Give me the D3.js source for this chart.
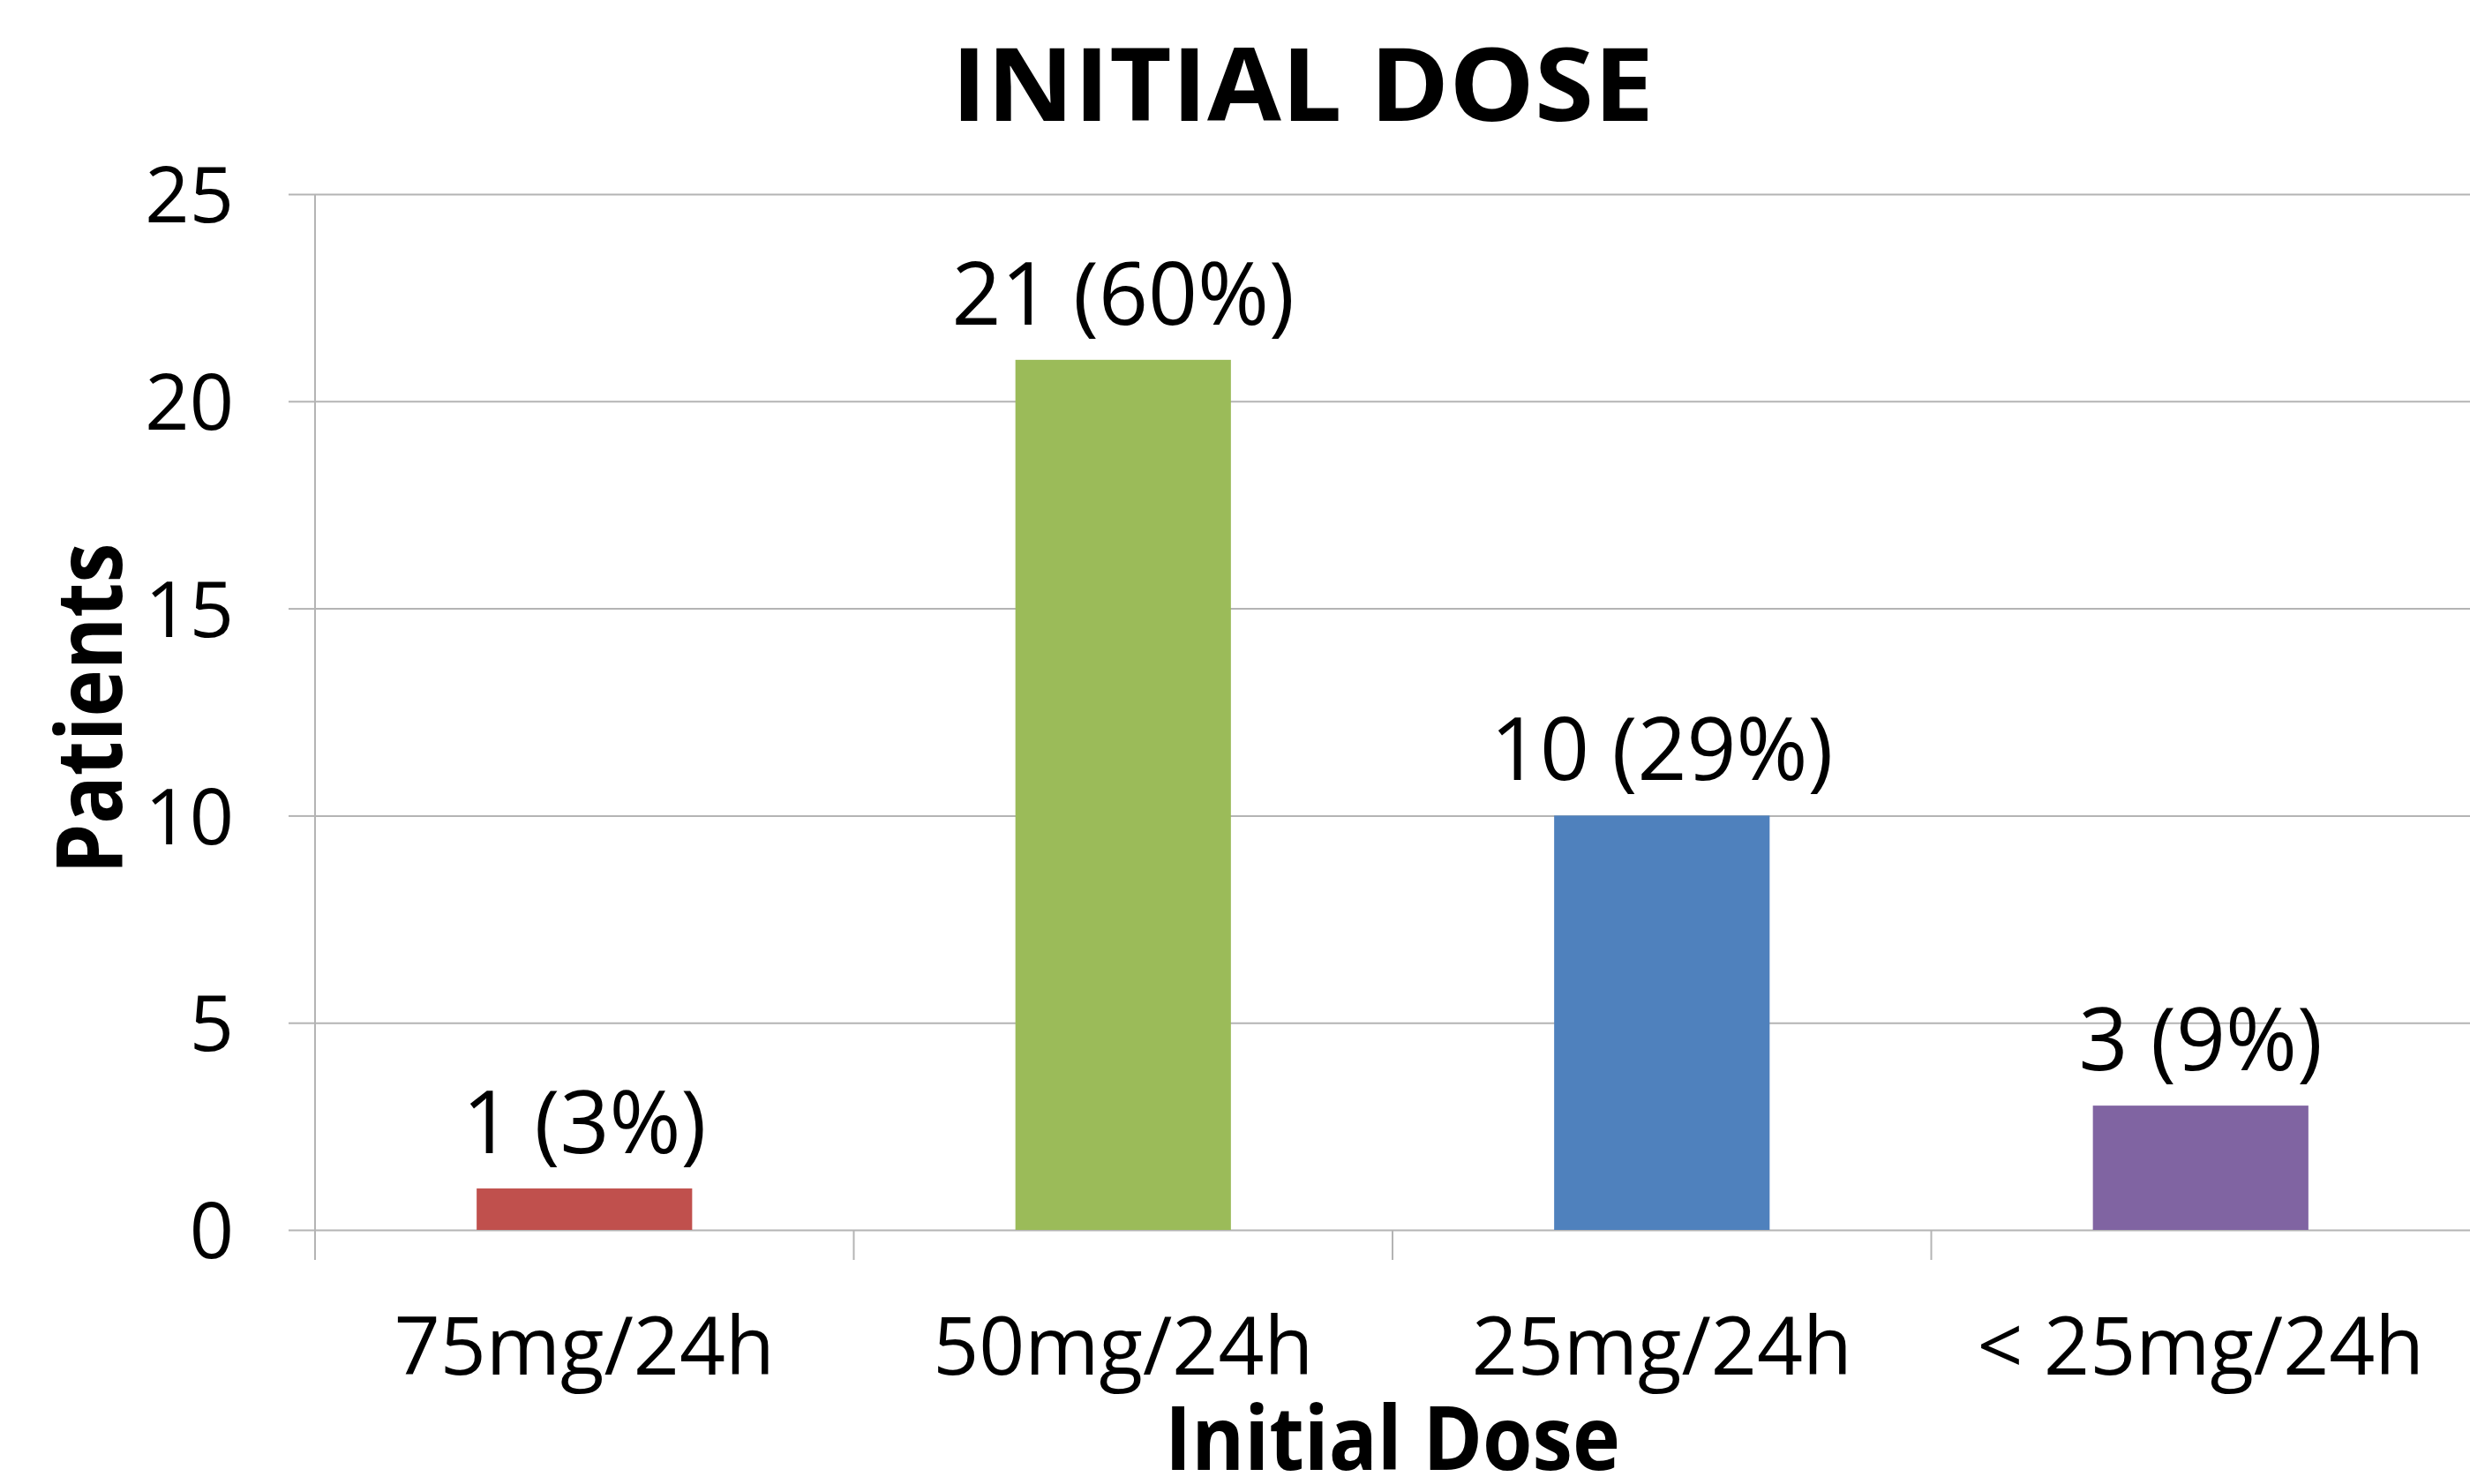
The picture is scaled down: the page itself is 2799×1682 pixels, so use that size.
<!DOCTYPE html>
<html>
<head>
<meta charset="utf-8">
<script src="https://cdn.jsdelivr.net/npm/d3@7"></script>
<style>
  body { margin: 0; background: #fff; }
  text { font-family: "Open Sans", sans-serif; fill: #000; }
</style>
</head>
<body>
<div id="chart"></div>
<script>
// chart data
var categories = ["75mg/24h", "50mg/24h", "25mg/24h", "< 25mg/24h"];
var patients = [1, 21, 10, 3];
var percents = ["3%", "60%", "29%", "9%"];
var barColors = ["#C0504D", "#9BBB59", "#4F81BD", "#8064A2"];
var yTicks = [0, 5, 10, 15, 20, 25];

var svgWidth = 2799;
var svgHeight = 1682;

var margin = {
   top: 220,
   right: 0,
   bottom: 288,
   left: 357
};

var width = svgWidth - margin.left - margin.right;
var height = svgHeight - margin.top - margin.bottom;

var svg = d3.select("#chart")
   .append("svg")
   .attr("width", svgWidth)
   .attr("height", svgHeight);

svg.append("rect")
   .attr("width", svgWidth)
   .attr("height", svgHeight)
   .attr("fill", "#fff");

var chartGroup = svg.append("g")
   .attr("transform", `translate(${margin.left}, ${margin.top})`);

// scales
var xBandScale = d3.scaleBand()
   .domain(categories)
   .range([0, width])
   .paddingInner(0.6)
   .paddingOuter(0.3);

var yLinearScale = d3.scaleLinear()
   .domain([0, 25])
   .range([height, 0]);

var gridColor = "#b4b4b4";

// tick marks + labels (ticks stick out 30px left of the axis)
var leftAxis = d3.axisLeft(yLinearScale)
   .tickValues(yTicks)
   .tickSize(30)
   .tickPadding(62);

var yAxis = chartGroup.append("g")
   .call(leftAxis);
yAxis.select(".domain").remove();
yAxis.selectAll("line").attr("stroke", gridColor).attr("stroke-width", 2);
yAxis.selectAll("text")
   .attr("font-size", 88)
   .attr("font-family", "'Open Sans', sans-serif")
   .attr("dy", "0.36em");

// gridlines
var grid = chartGroup.append("g")
   .call(d3.axisLeft(yLinearScale).tickValues(yTicks).tickSize(-width).tickFormat(""));
grid.select(".domain").remove();
grid.selectAll("line").attr("stroke", gridColor).attr("stroke-width", 2);

// vertical axis line, runs down past zero like the category ticks
chartGroup.append("line")
   .attr("x1", 0).attr("x2", 0)
   .attr("y1", 0).attr("y2", height + 34)
   .attr("stroke", gridColor)
   .attr("stroke-width", 2);

// category boundary ticks
chartGroup.selectAll(".cat-tick")
   .data(categories.slice(1))
   .enter()
   .append("line")
   .attr("class", "cat-tick")
   .attr("x1", d => xBandScale(d) - xBandScale.step() * xBandScale.paddingInner() / 2)
   .attr("x2", d => xBandScale(d) - xBandScale.step() * xBandScale.paddingInner() / 2)
   .attr("y1", height)
   .attr("y2", height + 34)
   .attr("stroke", gridColor)
   .attr("stroke-width", 2);

// category labels
var bottomAxis = d3.axisBottom(xBandScale).tickSize(0).tickPadding(0);
var xAxis = chartGroup.append("g")
   .attr("transform", `translate(0, ${height})`)
   .call(bottomAxis);
xAxis.select(".domain").remove();
xAxis.selectAll("text")
   .attr("font-size", 91)
   .attr("font-family", "'Open Sans', sans-serif")
   .attr("dy", null)
   .attr("y", 164);

// bars
chartGroup.selectAll(".bar")
   .data(patients)
   .enter()
   .append("rect")
   .attr("class", "bar")
   .attr("x", (d, i) => xBandScale(categories[i]))
   .attr("y", d => yLinearScale(d))
   .attr("width", xBandScale.bandwidth())
   .attr("height", d => height - yLinearScale(d))
   .attr("fill", (d, i) => barColors[i]);

// value labels
chartGroup.selectAll(".value-label")
   .data(patients)
   .enter()
   .append("text")
   .attr("class", "value-label")
   .attr("x", (d, i) => xBandScale(categories[i]) + xBandScale.bandwidth() / 2)
   .attr("y", d => yLinearScale(d) - 40)
   .attr("text-anchor", "middle")
   .attr("font-size", 98)
   .text((d, i) => `${d} (${percents[i]})`);

// title
svg.append("text")
   .attr("x", 1476)
   .attr("y", 137)
   .attr("text-anchor", "middle")
   .attr("font-family", "'DejaVu Sans', sans-serif")
   .attr("font-weight", "bold")
   .attr("font-size", 114)
   .attr("textLength", 796)
   .attr("lengthAdjust", "spacingAndGlyphs")
   .text("INITIAL DOSE");

// axis titles
svg.append("text")
   .attr("x", margin.left + width / 2)
   .attr("y", 1666)
   .attr("text-anchor", "middle")
   .attr("font-weight", "bold")
   .attr("font-size", 100)
   .attr("textLength", 516)
   .attr("lengthAdjust", "spacingAndGlyphs")
   .text("Initial Dose");

svg.append("text")
   .attr("transform", "translate(138, 803) rotate(-90)")
   .attr("text-anchor", "middle")
   .attr("font-weight", "bold")
   .attr("font-size", 104)
   .attr("textLength", 375)
   .attr("lengthAdjust", "spacingAndGlyphs")
   .text("Patients");
</script>
</body>
</html>
